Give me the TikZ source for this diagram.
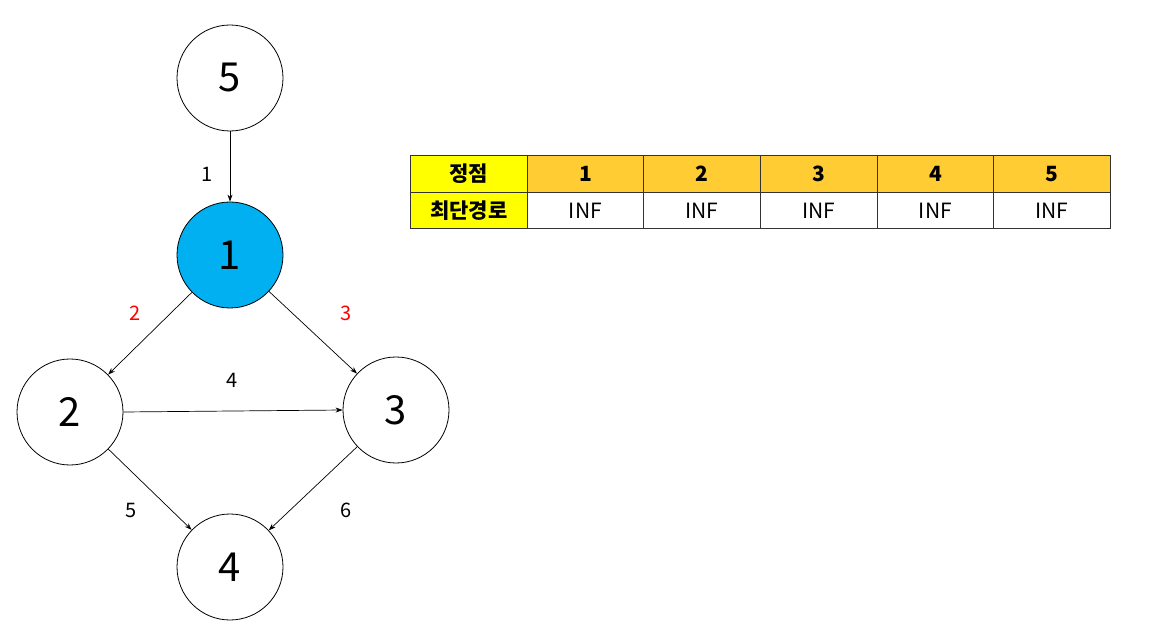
\documentclass[tikz,border=0pt]{standalone}
\usepackage{fontspec}
\setmainfont{Noto Sans CJK KR}
\usetikzlibrary{arrows.meta}
\definecolor{nodeblue}{HTML}{00B0F0}
\definecolor{hdrorange}{HTML}{FFCC33}
\definecolor{hdryellow}{HTML}{FFFF00}
\begin{document}
\begin{tikzpicture}[x=1pt,y=-1pt,
  vert/.style={circle,draw=black,line width=0.8pt,minimum size=106pt,inner sep=0pt,font=\fontsize{40}{42}\selectfont},
  edge/.style={-{Stealth[length=7pt,width=5pt]},line width=0.7pt},
  wlabel/.style={font=\fontsize{20}{22}\selectfont},
  cell/.style={draw=black!80,line width=0.8pt,minimum width=116.67pt,minimum height=36.5pt,inner sep=0pt,anchor=north west,font=\fontsize{21}{23}\selectfont},
  hcell/.style={cell,font=\fontsize{21}{23}\selectfont\bfseries}]
\useasboundingbox (0,0) rectangle (1149,636);
\fill[white] (0,0) rectangle (1149,636);
\node[vert] (n5) at (230,78) {5};
\node[vert,fill=nodeblue] (n1) at (230,255) {1};
\node[vert] (n2) at (70,412) {2};
\node[vert] (n3) at (396,410) {3};
\node[vert] (n4) at (230,567) {4};
\draw[edge] (n5) -- (n1);
\draw[edge] (n1) -- (n2);
\draw[edge] (n1) -- (n3);
\draw[edge] (n2.east) -- (n3.west);
\draw[edge] (n2) -- (n4);
\draw[edge] (n3) -- (n4);
\node[wlabel] (w1) at (207,174) {1};
\node[wlabel,text=red] (w2) at (135,313) {2};
\node[wlabel,text=red] (w3) at (346,313) {3};
\node[wlabel] (w4) at (232,380) {4};
\node[wlabel] (w5) at (131,510) {5};
\node[wlabel] (w6) at (346,510) {6};
% table
\node[hcell,fill=hdryellow] (h0) at (410,155.5) {정점};
\node[hcell,fill=hdrorange] (h1) at (526.67,155.5) {1};
\node[hcell,fill=hdrorange] (h2) at (643.33,155.5) {2};
\node[hcell,fill=hdrorange] (h3) at (760,155.5) {3};
\node[hcell,fill=hdrorange] (h4) at (876.67,155.5) {4};
\node[hcell,fill=hdrorange] (h5) at (993.33,155.5) {5};
\node[hcell,fill=hdryellow] (r0) at (410,192) {최단경로};
\node[cell] (r1) at (526.67,192) {INF};
\node[cell] (r2) at (643.33,192) {INF};
\node[cell] (r3) at (760,192) {INF};
\node[cell] (r4) at (876.67,192) {INF};
\node[cell] (r5) at (993.33,192) {INF};
\end{tikzpicture}
\end{document}
